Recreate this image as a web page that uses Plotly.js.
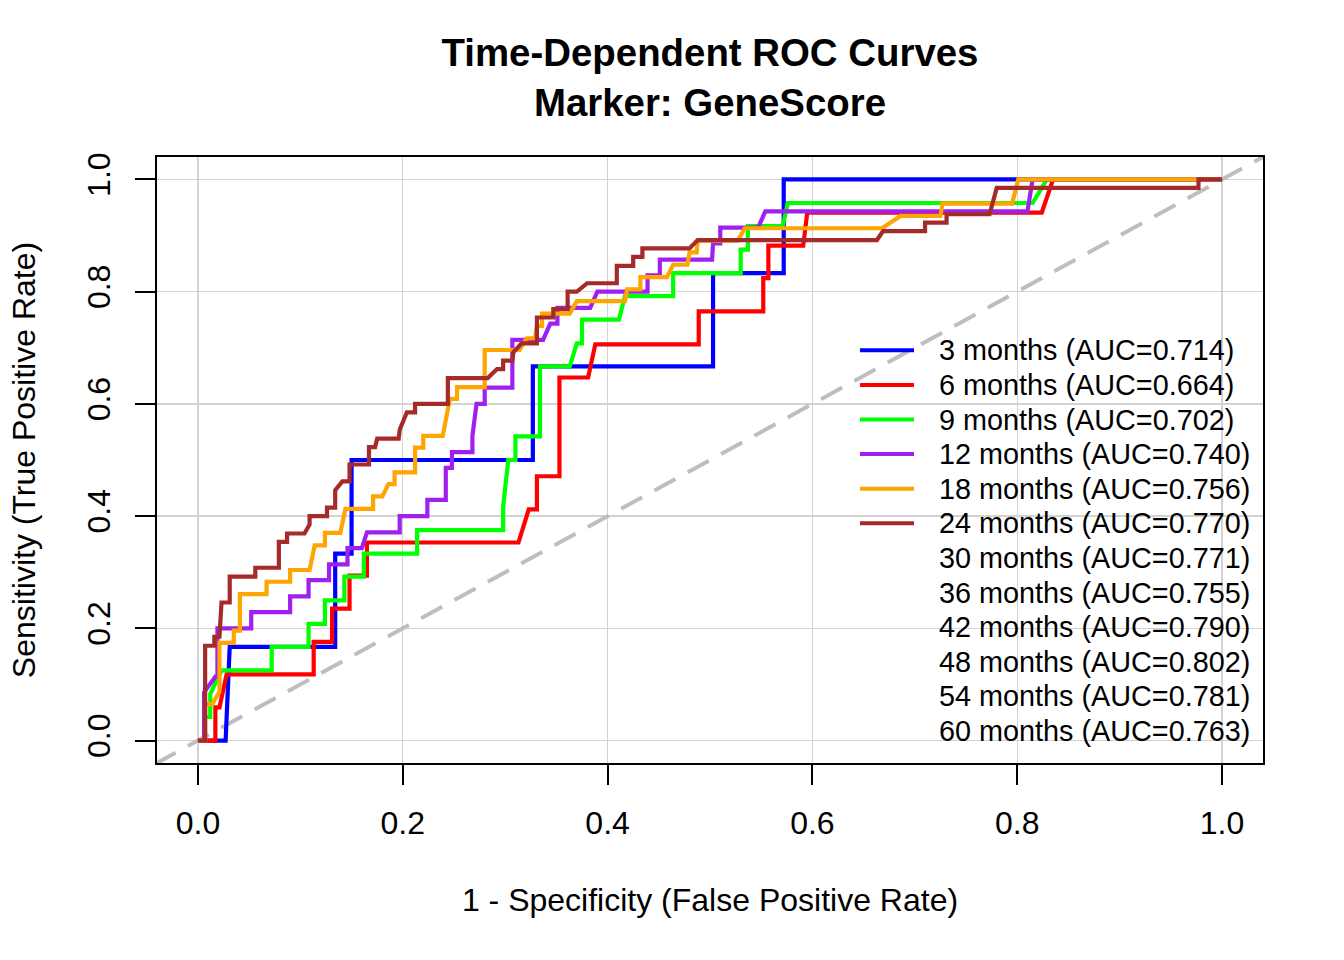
<!DOCTYPE html>
<html>
<head>
<meta charset="utf-8">
<script src="https://cdn.plot.ly/plotly-3.0.1.min.js"></script>
<style>html,body{margin:0;padding:0;background:#fff;}#chart{width:1344px;height:960px;}</style>
</head>
<body>
<div id="chart"></div>
<script>
// ---- data ----
const fpr3m  = [0, 0.027, 0.031, 0.134, 0.134, 0.150, 0.150, 0.327, 0.327, 0.503, 0.503, 0.572, 0.572, 1];
const tpr3m  = [0, 0, 0.167, 0.167, 0.333, 0.333, 0.5, 0.5, 0.667, 0.667, 0.833, 0.833, 1, 1];

const fpr6m  = [0, 0.017, 0.017, 0.021, 0.028, 0.113, 0.113, 0.131, 0.131, 0.148, 0.148, 0.165, 0.165, 0.313, 0.323, 0.331, 0.331, 0.353, 0.353, 0.381, 0.388, 0.489, 0.489, 0.552, 0.552, 0.557, 0.557, 0.591, 0.595, 0.824, 0.835, 1];
const tpr6m  = [0, 0, 0.059, 0.059, 0.118, 0.118, 0.176, 0.176, 0.235, 0.235, 0.294, 0.294, 0.353, 0.353, 0.412, 0.412, 0.471, 0.471, 0.647, 0.647, 0.706, 0.706, 0.765, 0.765, 0.824, 0.824, 0.882, 0.882, 0.941, 0.941, 1, 1];

const fpr9m  = [0, 0.006, 0.006, 0.012, 0.012, 0.023, 0.072, 0.072, 0.108, 0.108, 0.124, 0.124, 0.143, 0.143, 0.162, 0.162, 0.214, 0.214, 0.298, 0.298, 0.303, 0.310, 0.310, 0.334, 0.334, 0.363, 0.370, 0.375, 0.375, 0.411, 0.417, 0.464, 0.464, 0.530, 0.530, 0.537, 0.537, 0.571, 0.576, 0.815, 0.829, 1];
const tpr9m  = [0, 0, 0.042, 0.042, 0.083, 0.125, 0.125, 0.167, 0.167, 0.208, 0.208, 0.25, 0.25, 0.292, 0.292, 0.333, 0.333, 0.375, 0.375, 0.417, 0.5, 0.5, 0.542, 0.542, 0.667, 0.667, 0.708, 0.708, 0.75, 0.75, 0.792, 0.792, 0.833, 0.833, 0.875, 0.875, 0.917, 0.917, 0.958, 0.958, 1, 1];

const fpr12m = [0, 0.006, 0.006, 0.017, 0.019, 0.019, 0.052, 0.052, 0.090, 0.090, 0.108, 0.108, 0.128, 0.128, 0.146, 0.146, 0.160, 0.165, 0.197, 0.197, 0.224, 0.224, 0.242, 0.242, 0.248, 0.248, 0.268, 0.268, 0.272, 0.280, 0.280, 0.307, 0.307, 0.337, 0.344, 0.351, 0.351, 0.383, 0.390, 0.439, 0.439, 0.451, 0.451, 0.502, 0.503, 0.510, 0.510, 0.547, 0.554, 0.810, 0.815, 1];
const tpr12m = [0, 0, 0.086, 0.114, 0.114, 0.2, 0.2, 0.229, 0.229, 0.257, 0.257, 0.286, 0.286, 0.314, 0.314, 0.343, 0.343, 0.371, 0.371, 0.4, 0.4, 0.429, 0.429, 0.486, 0.486, 0.514, 0.514, 0.543, 0.6, 0.6, 0.629, 0.629, 0.714, 0.714, 0.743, 0.743, 0.771, 0.771, 0.8, 0.8, 0.829, 0.829, 0.857, 0.857, 0.886, 0.886, 0.914, 0.914, 0.943, 0.943, 1, 1];

const fpr18m = [0, 0.007, 0.007, 0.014, 0.021, 0.021, 0.035, 0.035, 0.041, 0.041, 0.067, 0.067, 0.090, 0.090, 0.109, 0.114, 0.124, 0.124, 0.139, 0.144, 0.171, 0.171, 0.180, 0.186, 0.192, 0.192, 0.212, 0.212, 0.220, 0.220, 0.239, 0.246, 0.253, 0.253, 0.280, 0.280, 0.314, 0.321, 0.329, 0.331, 0.336, 0.336, 0.363, 0.370, 0.417, 0.419, 0.432, 0.432, 0.458, 0.464, 0.478, 0.480, 0.487, 0.488, 0.527, 0.534, 0.668, 0.686, 0.725, 0.727, 0.795, 0.801, 1];
const tpr18m = [0, 0, 0.065, 0.065, 0.087, 0.174, 0.174, 0.196, 0.196, 0.261, 0.261, 0.283, 0.283, 0.304, 0.304, 0.348, 0.348, 0.370, 0.370, 0.413, 0.413, 0.435, 0.435, 0.457, 0.457, 0.478, 0.478, 0.522, 0.522, 0.543, 0.543, 0.609, 0.609, 0.630, 0.630, 0.696, 0.696, 0.717, 0.717, 0.739, 0.739, 0.761, 0.761, 0.783, 0.783, 0.804, 0.804, 0.826, 0.826, 0.848, 0.848, 0.870, 0.870, 0.891, 0.891, 0.913, 0.913, 0.935, 0.935, 0.957, 0.957, 1, 1];

const fpr24m = [0, 0.007, 0.007, 0.016, 0.016, 0.021, 0.023, 0.031, 0.031, 0.056, 0.056, 0.079, 0.079, 0.087, 0.087, 0.104, 0.109, 0.109, 0.126, 0.126, 0.134, 0.134, 0.141, 0.148, 0.148, 0.167, 0.167, 0.173, 0.175, 0.196, 0.197, 0.204, 0.212, 0.212, 0.244, 0.244, 0.283, 0.292, 0.298, 0.298, 0.307, 0.308, 0.316, 0.331, 0.331, 0.347, 0.347, 0.361, 0.361, 0.370, 0.380, 0.409, 0.409, 0.425, 0.425, 0.434, 0.434, 0.480, 0.488, 0.663, 0.669, 0.710, 0.710, 0.731, 0.731, 0.773, 0.780, 0.977, 0.977, 1];
const tpr24m = [0, 0, 0.169, 0.169, 0.185, 0.185, 0.246, 0.246, 0.292, 0.292, 0.308, 0.308, 0.354, 0.354, 0.369, 0.369, 0.385, 0.400, 0.400, 0.415, 0.415, 0.446, 0.462, 0.462, 0.492, 0.492, 0.523, 0.523, 0.538, 0.538, 0.554, 0.585, 0.585, 0.600, 0.600, 0.646, 0.646, 0.662, 0.662, 0.677, 0.677, 0.692, 0.708, 0.708, 0.754, 0.754, 0.769, 0.769, 0.800, 0.800, 0.815, 0.815, 0.846, 0.846, 0.862, 0.862, 0.877, 0.877, 0.892, 0.892, 0.908, 0.908, 0.923, 0.923, 0.938, 0.938, 0.985, 0.985, 1, 1];

const timePoints = [3, 6, 9, 12, 18, 24, 30, 36, 42, 48, 54, 60];
const aucValues  = ["0.714", "0.664", "0.702", "0.740", "0.756", "0.770", "0.771", "0.755", "0.790", "0.802", "0.781", "0.763"];
const curveColors = ["#0000FF", "#FF0000", "#00FF00", "#A020F0", "#FFA500", "#A52A2A"];
const tickVals   = [0, 0.2, 0.4, 0.6, 0.8, 1.0];
const tickLabels = ["0.0", "0.2", "0.4", "0.6", "0.8", "1.0"];

const curves = [
  [fpr3m, tpr3m], [fpr6m, tpr6m], [fpr9m, tpr9m],
  [fpr12m, tpr12m], [fpr18m, tpr18m], [fpr24m, tpr24m]
];

// ---- layout constants ----
const W = 1344, H = 960;
const M = {l: 157, r: 81, t: 157, b: 197};
const axRange = [-0.04, 1.04];
const FONT = "Liberation Sans, Arial, Helvetica, sans-serif";

const traces = [];
// reference diagonal
traces.push({
  x: [axRange[0] - 0.1, axRange[1] + 0.1], y: [axRange[0] - 0.1, axRange[1] + 0.1],
  mode: "lines", line: {color: "#BEBEBE", width: 4, dash: "24px,14px"},
  hoverinfo: "skip", showlegend: false
});
curves.forEach((c, i) => {
  traces.push({
    x: c[0], y: c[1], mode: "lines", name: timePoints[i] + " months",
    line: {color: curveColors[i], width: 4.2, shape: "linear"},
    showlegend: false
  });
});

// ---- custom legend (R style, no box) ----
const plotW = W - M.l - M.r, plotH = H - M.t - M.b;
const pxX = px => (px - M.l) / plotW;
const pxY = py => (H - M.b - py) / plotH;
const legTop = 350.3, legStep = 34.6;
const annotations = [];
const shapes = [];
timePoints.forEach((t, i) => {
  const cy = legTop + i * legStep;
  annotations.push({
    xref: "paper", yref: "paper", x: pxX(937), y: pxY(cy),
    xanchor: "left", yanchor: "middle", showarrow: false,
    text: t + " months (AUC=" + aucValues[i] + ")",
    font: {family: FONT, size: 28.8, color: "#000"}
  });
  if (i < curveColors.length) {
    shapes.push({
      type: "line", xref: "paper", yref: "paper",
      x0: pxX(860), x1: pxX(914), y0: pxY(cy), y1: pxY(cy),
      line: {color: curveColors[i], width: 4}
    });
  }
});

const axisCommon = {
  range: axRange, autorange: false,
  tickmode: "array", tickvals: tickVals, ticktext: tickLabels,
  showgrid: true, gridcolor: "#D3D3D3", gridwidth: 1.3,
  zeroline: false, showline: true, mirror: true,
  linecolor: "#000", linewidth: 2,
  ticks: "outside", ticklen: 20, tickwidth: 2, tickcolor: "#000",
  tickfont: {family: FONT, size: 32, color: "#000"},
  automargin: false
};

const layout = {
  width: W, height: H,
  paper_bgcolor: "#fff", plot_bgcolor: "#fff",
  margin: M,
  showlegend: false,
  font: {family: FONT, color: "#000"},
  title: {
    text: "Time-Dependent ROC Curves<br>Marker: GeneScore",
    font: {family: FONT, size: 38.4, color: "#000", weight: 700},
    x: 0.5, xref: "paper", xanchor: "center",
    y: 1 - 66 / H, yref: "container", yanchor: "middle"
  },
  xaxis: Object.assign({}, axisCommon, {
    title: {text: "1 - Specificity (False Positive Rate)", font: {family: FONT, size: 32, color: "#000"}, standoff: 48},
    ticklabelstandoff: 11
  }),
  yaxis: Object.assign({}, axisCommon, {
    title: {text: "Sensitivity (True Positive Rate)", font: {family: FONT, size: 32, color: "#000"}, standoff: 36},
    tickangle: -90,
    ticklabelstandoff: 12
  }),
  annotations: annotations,
  shapes: shapes
};

Plotly.newPlot("chart", traces, layout, {displayModeBar: false, staticPlot: true});
</script>
</body>
</html>
